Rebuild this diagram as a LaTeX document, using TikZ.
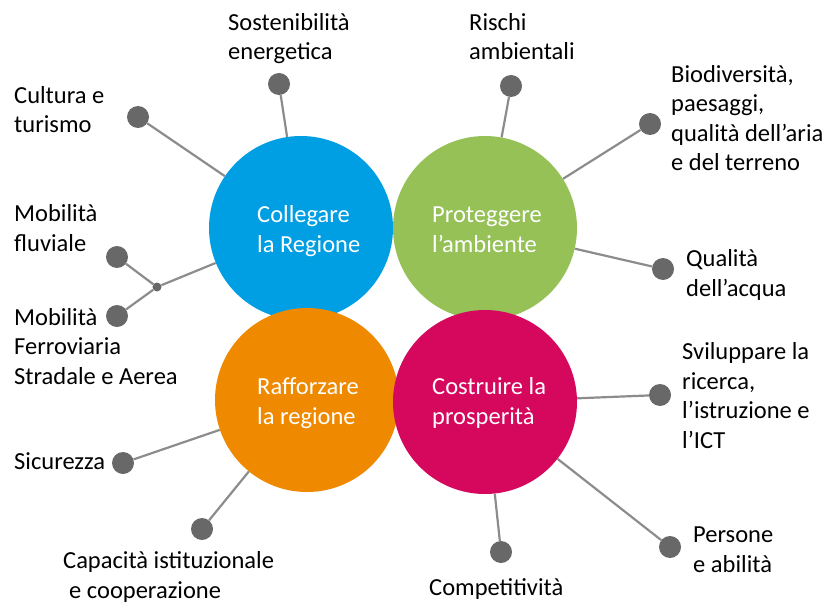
\documentclass[tikz,border=0pt]{standalone}
\usepackage{fontspec}
\setmainfont{Carlito}
\definecolor{cblue}{RGB}{0,158,226}
\definecolor{cgreen}{RGB}{149,193,87}
\definecolor{corange}{RGB}{239,137,0}
\definecolor{cmagenta}{RGB}{214,8,94}
\definecolor{dotgray}{RGB}{104,104,104}
\definecolor{linegray}{RGB}{140,140,140}
\begin{document}
\begin{tikzpicture}[x=1pt,y=-1pt,
  disc/.style={circle, minimum size=184pt, inner sep=0pt, draw=none},
  gdot/.style={circle, fill=dotgray, minimum size=22pt, inner sep=0pt},
  jdot/.style={circle, fill=dotgray, minimum size=9pt, inner sep=0pt},
  conn/.style={draw=linegray, line width=2.2pt},
  lbl/.style={anchor=base west, align=left, inner sep=0pt, font=\fontsize{24.5}{29.5}\selectfont, text=black},
  ctext/.style={lbl, text=white}]
\useasboundingbox (0,0) rectangle (834,604);
% circles
\node[disc, fill=cblue] (blue) at (301,228) {};
\node[disc, fill=cgreen] (green) at (485,228) {};
\node[disc, fill=corange] (orange) at (307,400) {};
\node[disc, fill=cmagenta] (magenta) at (485,402) {};
% circle texts (anchor = baseline of last line)
\node[ctext] (tblue) at (257,252) {Collegare\\la Regione};
\node[ctext] (tgreen) at (432,252) {Proteggere\\l’ambiente};
\node[ctext] (torange) at (257,424) {Rafforzare\\la regione};
\node[ctext] (tmagenta) at (432,424) {Costruire la\\prosperità};
% dots
\node[gdot] (dsost) at (279,84) {};
\node[gdot] (dcult) at (138,117) {};
\node[gdot] (dfluv) at (117,257) {};
\node[gdot] (dferr) at (117,316) {};
\node[jdot] (junc) at (157,287) {};
\node[gdot] (drisc) at (511,86) {};
\node[gdot] (dbio) at (650,124) {};
\node[gdot] (dacq) at (663,269) {};
\node[gdot] (dsic) at (123,463) {};
\node[gdot] (dcap) at (202,529) {};
\node[gdot] (dsvil) at (660,395) {};
\node[gdot] (dpers) at (670,547) {};
\node[gdot] (dcomp) at (501,552) {};
% connectors
\draw[conn] (dsost) -- (blue);
\draw[conn] (dcult) -- (blue);
\draw[conn] (dfluv) -- (junc);
\draw[conn] (dferr) -- (junc);
\draw[conn] (junc) -- (blue);
\draw[conn] (drisc) -- (green);
\draw[conn] (dbio) -- (green);
\draw[conn] (dacq) -- (green);
\draw[conn] (dsic) -- (orange);
\draw[conn] (dcap) -- (orange);
\draw[conn] (dsvil) -- (magenta);
\draw[conn] (dpers) -- (magenta);
\draw[conn] (dcomp) -- (magenta);
% labels (anchor = baseline of last line)
\node[lbl] (lsost) at (228,60) {Sostenibilità\\energetica};
\node[lbl] (lcult) at (14,133) {Cultura e\\turismo};
\node[lbl] (lfluv) at (14,251) {Mobilità\\fluviale};
\node[lbl] (lferr) at (14,384) {Mobilità\\Ferroviaria\\Stradale e Aerea};
\node[lbl] (lsic) at (14,469) {Sicurezza};
\node[lbl] (lcap) at (63,598) {Capacità istituzionale\\\hspace*{6pt}e cooperazione};
\node[lbl] (lrisc) at (469,60) {Rischi\\ambientali};
\node[lbl] (lbio) at (671,171) {Biodiversità,\\paesaggi,\\qualità dell’aria\\e del terreno};
\node[lbl] (lacq) at (686,296) {Qualità\\dell’acqua};
\node[lbl] (lsvil) at (682,448) {Sviluppare la\\ricerca,\\l’istruzione e\\l’ICT};
\node[lbl] (lpers) at (693,572) {Persone\\e abilità};
\node[lbl] (lcomp) at (429,595) {Competitività};
\end{tikzpicture}
\end{document}
